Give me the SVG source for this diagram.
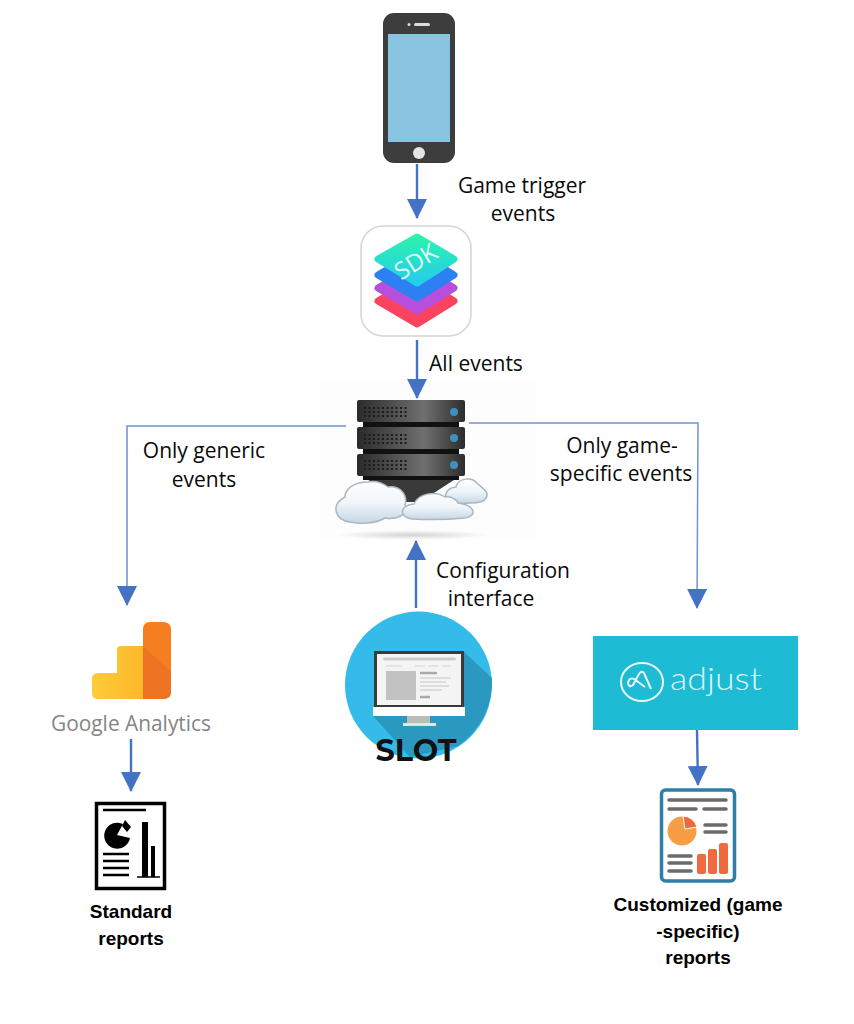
<svg xmlns="http://www.w3.org/2000/svg" width="854" height="1024" viewBox="0 0 854 1024">
<style>
.l{font-family:"Open Sans","Noto Sans","Liberation Sans",sans-serif;font-size:21px;fill:#0a0a0a;text-anchor:middle}
.b{font-family:"Liberation Sans","Noto Sans",sans-serif;font-size:19px;font-weight:700;fill:#000;text-anchor:middle}
.c{fill:none;stroke:#4472c4;stroke-width:2.400}
.c2{fill:none;stroke:#6f93d2;stroke-width:1.500}
.gr{stroke:#6b6b6b;stroke-width:3.500;stroke-linecap:round;fill:none}
.k{stroke:#000;stroke-width:2.500;fill:none}
.srv{fill:url(#srvG)}
.led{fill:#3f8fc0}
.dots{stroke:#1c1c1c;stroke-width:2;stroke-dasharray:2 2.500;fill:none}
.cloud{fill:url(#cl);stroke:#aab8c2;stroke-width:1.500}
.layer{stroke-width:7;stroke-linejoin:round}
.bar{fill:#f06a40}
</style>
<defs>
<marker id="a" markerUnits="userSpaceOnUse" markerWidth="20" markerHeight="20" refX="19" refY="10" orient="auto"><path d="M0 0L20 10L0 20Z" fill="#4472c4"/></marker>
<linearGradient id="srvG" x1="0" x2="1" y1="0" y2="0"><stop offset="0" stop-color="#2a2a2a"/><stop offset=".62" stop-color="#707070"/><stop offset="1" stop-color="#2c2c2c"/></linearGradient>
<linearGradient id="cl" x1="0" x2="0" y1="0" y2="1"><stop offset="0" stop-color="#fdfeff"/><stop offset=".5" stop-color="#f1f6fa"/><stop offset="1" stop-color="#c5d8e6"/></linearGradient>
<linearGradient id="tl" x1="0" x2="0" y1="1" y2="0"><stop offset="0" stop-color="#25cdeb"/><stop offset="1" stop-color="#2bf2ae"/></linearGradient>
<linearGradient id="yl" x1="0" x2="1" y1="0" y2="0"><stop offset="0" stop-color="#fdcb3a"/><stop offset="1" stop-color="#fdb82a"/></linearGradient>
<radialGradient id="sh" cx=".5" cy=".5" r=".5"><stop offset="0" stop-color="#d4d4d4"/><stop offset="1" stop-color="#fff"/></radialGradient>
</defs>

<g id="phone">
<rect x="383" y="13" width="72" height="150" rx="11" fill="#3d3d3d"/>
<rect x="388" y="34" width="62" height="108" fill="#89c4e1"/>
<rect x="414" y="23" width="16" height="3" rx="1.500" fill="#ddd"/>
<circle cx="409" cy="24.500" r="1.500" fill="#ddd"/>
<circle cx="419" cy="153" r="6" fill="#e4e4e4"/>
</g>

<g id="sdk">
<rect x="361" y="226" width="110" height="110" rx="22" fill="#fff" stroke="#d5d5d5" stroke-width="1.500"/>
<path class="layer" d="M417 278L454 301L417 324L378 301Z" fill="#f9435f" stroke="#f9435f"/>
<path class="layer" d="M417 265L454 288L417 311L378 288Z" fill="#b84fdc" stroke="#b84fdc"/>
<path class="layer" d="M417 252L454 275L417 298L378 275Z" fill="#2d80f2" stroke="#2d80f2"/>
<path class="layer" d="M417 237L454 259L417 283L378 259Z" fill="url(#tl)" stroke="url(#tl)"/>
<text x="416" y="270" transform="rotate(-32 416 262)" font-family="'Open Sans','Liberation Sans',sans-serif" font-size="24" fill="#dffff5" text-anchor="middle">SDK</text>
</g>

<g id="server">
<rect x="320" y="380" width="216" height="160" fill="#fdfdfd"/>
<ellipse cx="412" cy="535" rx="80" ry="5" fill="url(#sh)"/>
<path d="M365 478H457L420 502H405Z" fill="#3a3a3a"/>
<rect x="357" y="400" width="108" height="22" rx="2" class="srv"/><rect x="363" y="422" width="96" height="5" fill="#111"/>
<rect x="357" y="427" width="108" height="22" rx="2" class="srv"/><rect x="363" y="449" width="96" height="5" fill="#111"/>
<rect x="357" y="454" width="108" height="22" rx="2" class="srv"/><rect x="363" y="476" width="96" height="4" fill="#111"/>
<path class="dots" d="M364 408H409M364 412H409M364 416H409M364 435H409M364 439H409M364 443H409M364 461H409M364 465H409M364 469H409"/>
<circle class="led" cx="454" cy="412" r="4"/><circle class="led" cx="454" cy="438" r="4"/><circle class="led" cx="454" cy="465" r="4"/>
<path class="cloud" d="M450 503C442 497 446 488 456 487C458 478 472 476 478 484C482 488 490 492 486 498C483 505 465 503 450 503Z"/>
<path class="cloud" d="M350 522C335 520 330 505 345 497C345 488 355 482 368 482C378 480 384 484 388 487C400 485 408 495 405 505C410 515 395 520 385 518C375 524 360 524 350 522Z"/>
<path class="cloud" d="M412 519C398 517 400 505 414 504C418 494 435 490 445 497C452 495 458 502 458 503C475 505 478 516 465 518C445 520 430 520 412 519Z"/>
</g>

<g id="google-analytics">
<path d="M143 630Q143 622 150 622H163Q171 622 171 630V692Q171 699 163 699H143Z" fill="#f57f20"/>
<path d="M143 646L171 672V692Q171 699 163 699H143Z" fill="#ee7424"/>
<path d="M98 673H117V650Q117 646 121 646H143V699H98Q92 699 92 693V679Q92 673 98 673Z" fill="url(#yl)"/>
<text x="131" y="731" font-family="'Open Sans','Liberation Sans',sans-serif" font-size="22" fill="#858585" text-anchor="middle" textLength="160" lengthAdjust="spacingAndGlyphs">Google Analytics</text>
</g>

<g id="standard-report">
<rect x="96.500" y="803.500" width="68" height="85" fill="#fff" stroke="#000" stroke-width="3.500"/>
<path class="k" d="M103 810H146M103 854H129M103 861H129M103 868H129M103 875H129"/>
<path d="M117 835L123 824A13 13 0 1 0 130 838Z" fill="#000"/>
<path d="M122 826L125 820L131 827L127 832Z" fill="#000"/>
<rect x="142" y="822" width="6" height="55"/><rect x="151" y="846" width="4" height="31"/>
<path d="M137 877H160" stroke="#000" stroke-width="1.500"/>
<text class="b"><tspan x="131" y="918">Standard</tspan><tspan x="131" y="945">reports</tspan></text>
</g>

<g id="slot">
<circle cx="418.500" cy="685" r="73.500" fill="#35bbea"/>
<path d="M464 652L492 678Q493 720 458 746L410 757L373 716Z" fill="#2a98bf"/>
<rect x="375.500" y="652.500" width="87" height="54" fill="#f4f4f4" stroke="#3a3a3a" stroke-width="3"/>
<rect x="383" y="657.500" width="73" height="3" rx="1.500" fill="#ccc"/>
<path d="M386 666H402M415 666H425M428 666H438M442 666H451" stroke="#ddd" stroke-width="1.500"/>
<rect x="386" y="671" width="30" height="29" fill="#c2c2c2"/>
<path d="M420 678H451M420 682H446M420 686H449M420 690H442" stroke="#d4d4d4" stroke-width="1.500"/>
<path d="M420 673H437M420 697H430" stroke="#aaa" stroke-width="2.500"/>
<rect x="373" y="707" width="92" height="9" fill="#fff"/>
<rect x="407" y="716" width="23" height="7" fill="#bbb"/>
<rect x="403" y="723" width="33" height="3" fill="#e4e4e4"/>
<text x="416" y="761" font-family="'Montserrat','Lato','Liberation Sans',sans-serif" font-size="30" font-weight="700" fill="#111" text-anchor="middle" textLength="81" lengthAdjust="spacingAndGlyphs">SLOT</text>
</g>

<g id="adjust">
<rect x="593" y="636" width="205" height="94" fill="#1dbcd4"/>
<ellipse cx="642" cy="682" rx="21" ry="19" fill="none" stroke="#e8f8fb" stroke-width="2"/>
<path d="M651 689L644 673Q642 670 639 674L633 685Q629 688 628 683Q629 677 634 679L645 687" fill="none" stroke="#e8f8fb" stroke-width="2"/>
<text x="670" y="690" font-family="'Lato','Open Sans',sans-serif" font-size="31" font-weight="300" fill="#dcf5f8" textLength="92" lengthAdjust="spacingAndGlyphs">adjust</text>
</g>

<g id="custom-report">
<rect x="661.500" y="790" width="73" height="91" rx="4" fill="#fff" stroke="#2e7ea6" stroke-width="3.500"/>
<path class="gr" d="M669 800H726M669 809H696M704 809H726M705 825H726M705 832H726M669 856H691M669 863H691M669 871H691"/>
<circle cx="682" cy="831" r="14.500" fill="#f79d45"/>
<path d="M683 816A15 15 0 0 1 697 827L685 829Z" fill="#ec6a3c" stroke="#fff"/>
<rect class="bar" x="697" y="854" width="9" height="20" rx="2"/>
<rect class="bar" x="708" y="849" width="9" height="25" rx="2"/>
<rect class="bar" x="719" y="843" width="9" height="31" rx="2"/>
<text class="b"><tspan x="698" y="911">Customized (game</tspan><tspan x="698" y="938">-specific)</tspan><tspan x="698" y="964">reports</tspan></text>
</g>

<g id="connectors">
<path class="c" d="M417 164V218" marker-end="url(#a)"/>
<path class="c" d="M417 340V398" marker-end="url(#a)"/>
<path class="c" d="M416 608V541" marker-end="url(#a)"/>
<path class="c2" d="M346 426H127V605" marker-end="url(#a)"/>
<path class="c2" d="M469 423H698L697 608" marker-end="url(#a)"/>
<path class="c" d="M131 739V791" marker-end="url(#a)"/>
<path class="c" d="M697 730L698 785" marker-end="url(#a)"/>
</g>

<g id="labels">
<text class="l"><tspan x="522" y="193">Game trigger</tspan><tspan x="523" y="221">events</tspan></text>
<text class="l" x="476" y="371">All events</text>
<text class="l"><tspan x="204" y="458">Only generic</tspan><tspan x="204" y="487">events</tspan></text>
<text class="l"><tspan x="622" y="453">Only game-</tspan><tspan x="621" y="481">specific events</tspan></text>
<text class="l"><tspan x="503" y="578">Configuration</tspan><tspan x="491" y="606">interface</tspan></text>
</g>
</svg>
